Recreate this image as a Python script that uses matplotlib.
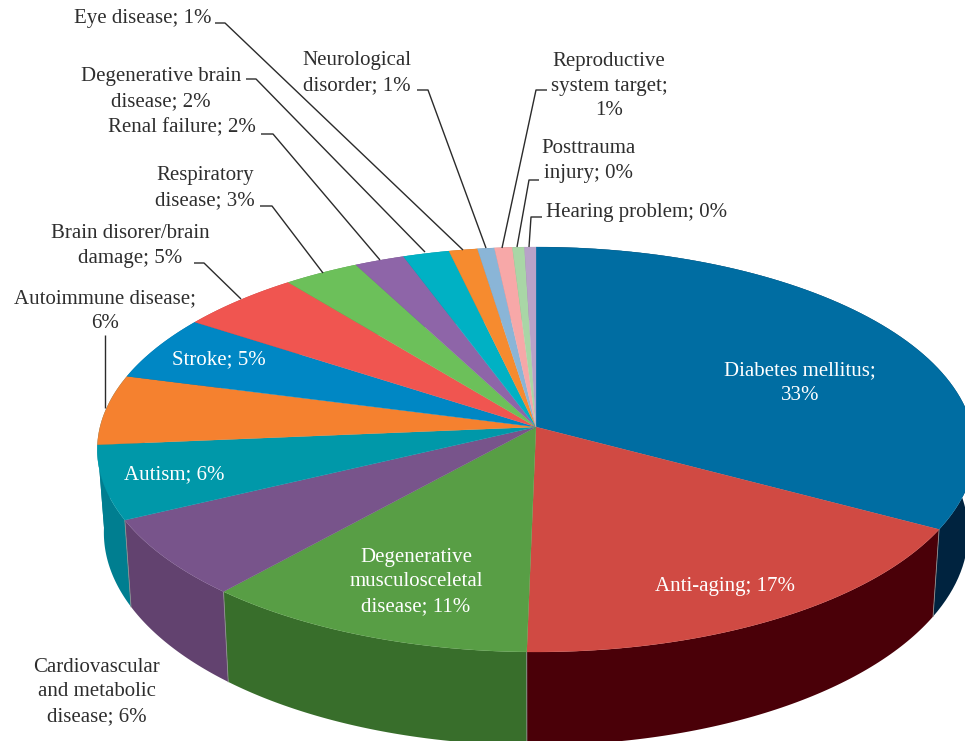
import numpy as np
import matplotlib
matplotlib.use('Agg')
import matplotlib.pyplot as plt

plt.rcParams['font.family'] = ['Liberation Serif', 'DejaVu Serif']

# shares clockwise from 12 o'clock (labels are rounded in the source)
names = ['Diabetes mellitus', 'Anti-aging', 'Degenerative musculosceletal disease',
         'Cardiovascular and metabolic disease', 'Autism', 'Autoimmune disease',
         'Stroke', 'Brain disorer/brain damage', 'Respiratory disease', 'Renal failure',
         'Degenerative brain disease', 'Eye disease', 'Neurological disorder',
         'Reproductive system target', 'Posttrauma injury', 'Hearing problem']
shares = [33.05, 17.25, 11.1, 6.3, 5.9, 5.6, 5.2, 5.0, 3.1, 2.05, 1.9, 1.17, 0.69, 0.73, 0.49, 0.47]
top_colors = ['#006da2', '#d04a43', '#589e45', '#78548b', '#0098a9', '#f5812f',
              '#0087c4', '#f05550', '#6cc05a', '#8e65a8', '#00b1c4', '#f68b2f',
              '#8ab5d7', '#f7a8a8', '#a9d6a6', '#b8a2c8']
wall_colors = ['#00233f', '#4a0008', '#386e2b', '#62426f', '#007e90', '#007e90',
               '#005f8c', '#a83b38', '#4c8a40', '#654878', '#007f8d', '#b06420',
               '#62819a', '#b07878', '#799a77', '#84748f']

# text, x, y (centre), colour
labels = [
    ('Diabetes mellitus;\n33%', 800, 383, 'white'),
    ('Anti-aging; 17%', 725, 586, 'white'),
    ('Degenerative\nmusculosceletal\ndisease; 11%', 416, 582, 'white'),
    ('Cardiovascular\nand metabolic\ndisease; 6%', 97, 692, '#2e2e2e'),
    ('Autism; 6%', 174, 475, 'white'),
    ('Autoimmune disease;\n6%', 105, 311, '#2e2e2e'),
    ('Stroke; 5%', 219, 360, 'white'),
    ('Brain disorer/brain\ndamage; 5%', 130, 246, '#2e2e2e'),
    ('Respiratory\ndisease; 3%', 205, 188, '#2e2e2e'),
    ('Renal failure; 2%', 182, 128, '#2e2e2e'),
    ('Degenerative brain\ndisease; 2%', 161, 89, '#2e2e2e'),
    ('Eye disease; 1%', 143, 19, '#2e2e2e'),
    ('Neurological\ndisorder; 1%', 357, 73, '#2e2e2e'),
    ('Reproductive\nsystem target;\n1%', 609, 86, '#2e2e2e'),
    ('Posttrauma\ninjury; 0%', 588, 161, '#2e2e2e'),
    ('Hearing problem; 0%', 637, 212, '#2e2e2e'),
]

leaders = [
    [(105, 335), (105, 408)],
    [(194, 263), (204, 263), (241, 299)],
    [(260, 206), (272, 206), (323, 273)],
    [(261, 134), (273, 134), (380, 260)],
    [(246, 79), (256, 79), (425, 252)],
    [(215, 23), (225, 23), (463, 250)],
    [(417, 90), (428, 90), (486, 248)],
    [(547, 90), (536, 90), (502, 248)],
    [(539, 180), (529, 180), (517, 247)],
    [(542, 217), (531, 217), (529, 247)],
]

# perspective of the pie disc
cx, cy = 536, 427
A, B, k = 436, 200, 1 / 9


def rim(theta):
    s, c = np.sin(theta), np.cos(theta)
    w = 1 + k * c
    return A * s / w, B * c / w


def top_xy(theta):
    X, Y = rim(theta)
    return cx + X, cy - Y


def base_xy(theta):
    X, Y = rim(theta)
    return cx + 0.985 * X, cy - (1.05 * Y - 82)


fig = plt.figure(figsize=(9.65, 7.41), dpi=100)
ax = fig.add_axes([0, 0, 1, 1])
ax.set_xlim(0, 965)
ax.set_ylim(741, 0)
ax.axis('off')

edges = np.cumsum([0] + shares) / np.sum(shares) * 2 * np.pi

# walls first, the top covers whatever faces backwards
for i in range(len(shares)):
    t = np.linspace(edges[i], edges[i + 1], 80)
    xt, yt = top_xy(t)
    xb, yb = base_xy(t)
    ax.fill(np.r_[xt, xb[::-1]], np.r_[yt, yb[::-1]], color=wall_colors[i], lw=0, zorder=1)

for i in [1, 2, 3, 4]:
    xt, yt = top_xy(edges[i])
    xb, yb = base_xy(edges[i])
    ax.plot([xt, xb], [yt, yb], color='#8f8f8f', lw=0.6, zorder=2)

for i in range(len(shares)):
    t = np.linspace(edges[i], edges[i + 1], 80)
    xt, yt = top_xy(t)
    ax.fill(np.r_[cx, xt], np.r_[cy, yt], color=top_colors[i], lw=0.2, zorder=3)

for pts in leaders:
    xs, ys = zip(*pts)
    ax.plot(xs, ys, color='#2b2b2b', lw=1.0, zorder=4, solid_capstyle='butt')

for txt, x, y, col in labels:
    ax.text(x, y, txt, ha='center', va='center', fontsize=15, color=col,
            linespacing=1.41, zorder=5)

fig.savefig('out.png', dpi=100)
